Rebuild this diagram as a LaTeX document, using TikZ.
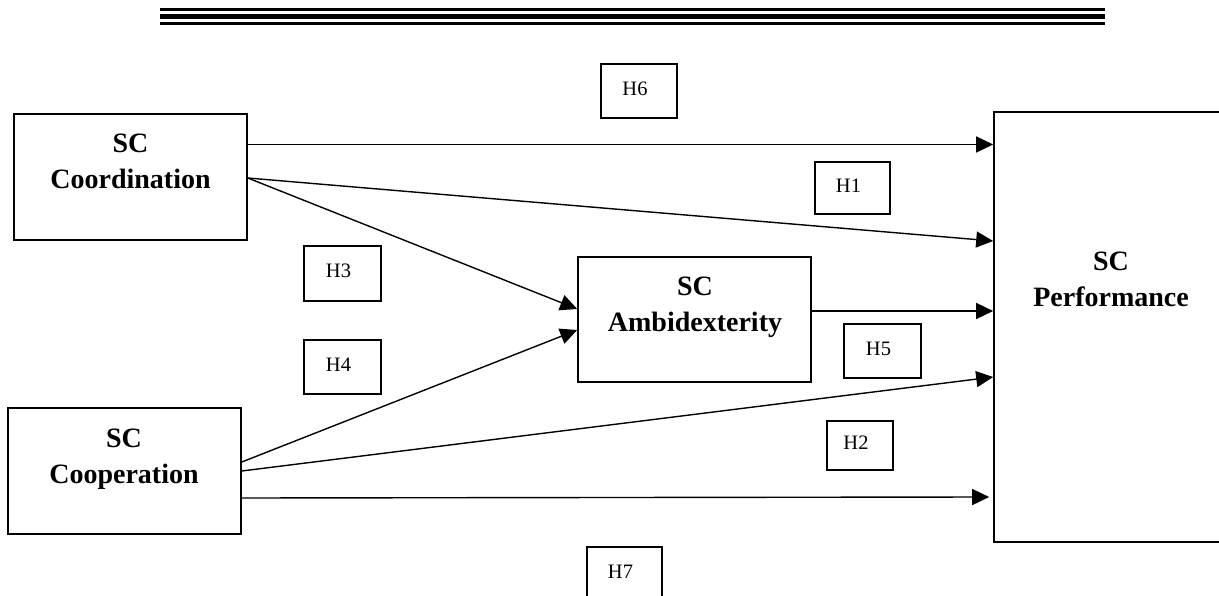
\documentclass[tikz,border=0pt]{standalone}
\usepackage{fontspec}
\setmainfont{Liberation Serif}
\usetikzlibrary{arrows.meta}
\tikzset{
  box/.style={draw, line width=1.6pt, inner sep=0pt},
  title/.style={inner sep=0pt, align=center, font=\fontsize{28}{36}\selectfont\bfseries},
  hyp/.style={draw, line width=1.5pt, inner sep=0pt, text depth=5pt,
    font=\fontsize{20.5}{24}\selectfont, execute at end node={\hspace*{8pt}}},
  conn/.style={line width=1.4pt, -{Triangle[length=17pt,width=16pt]}},
  rulethin/.style={line width=3pt},
  rulethick/.style={line width=5.2pt}
}
\begin{document}
\begin{tikzpicture}[x=1pt,y=-1pt]
\useasboundingbox (0,0) rectangle (1219,596);
\clip (0,0) rectangle (1219,596);
% top rules
\draw[rulethin] (160,9.7) -- (1105,9.7);
\draw[rulethick] (160,16.2) -- (1105,16.2);
\draw[rulethin] (160,23.2) -- (1105,23.2);
% main boxes
\node[box, minimum width=233pt, minimum height=126pt] (coord) at (130.5,177) {};
\node[title] (coordt) at (130.5,161) {SC\\Coordination};
\node[box, minimum width=233pt, minimum height=126pt] (coop) at (124.5,471) {};
\node[title] (coopt) at (124,459.5) {SC\\Cooperation};
\node[box, minimum width=233pt, minimum height=125pt] (amb) at (694.5,319.5) {};
\node[title] (ambt) at (695,307) {SC\\Ambidexterity};
\node[box, minimum width=246pt, minimum height=430pt] (perf) at (1117,327) {};
\node[title] (perft) at (1111,279.5) {SC\\Performance};
% hypothesis labels
\node[hyp, minimum width=76pt, minimum height=54pt] (h6) at (639,91) {H6};
\node[hyp, minimum width=75pt, minimum height=52pt] (h1) at (852.5,188) {H1};
\node[hyp, minimum width=77pt, minimum height=55pt] (h3) at (342.5,273.5) {H3};
\node[hyp, minimum width=77pt, minimum height=54pt] (h4) at (342.5,367) {H4};
\node[hyp, minimum width=77pt, minimum height=54pt] (h5) at (882.5,351) {H5};
\node[hyp, minimum width=66pt, minimum height=49pt] (h2) at (860,445.5) {H2};
\node[hyp, minimum width=75pt, minimum height=55pt] (h7) at (624.5,574.5) {H7};
% connectors
\draw[conn] ([yshift=32.5pt]coord.east) -- ([yshift=182.5pt]perf.west);
\draw[conn] ([yshift=-1pt]coord.east) -- ([yshift=86pt]perf.west);
\draw[conn] ([yshift=-1pt]coord.east) -- ([yshift=10.5pt]amb.west);
\draw[conn] ([yshift=8.5pt]amb.east) -- ([yshift=16pt]perf.west);
\draw[conn] ([yshift=9pt]coop.east) -- ([yshift=-10.5pt]amb.west);
\draw[conn] (coop.east) -- ([yshift=-50pt]perf.west);
\draw[conn] ([yshift=-27pt]coop.east) -- ([yshift=-170pt,xshift=-4pt]perf.west);
\end{tikzpicture}
\end{document}
